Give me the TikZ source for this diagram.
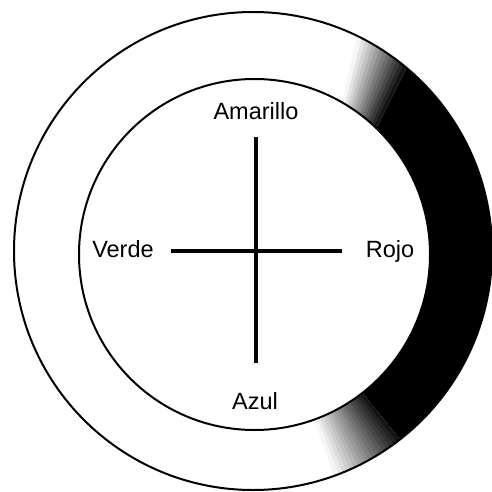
\documentclass[tikz,border=0pt]{standalone}
\usepackage{fontspec}
\setmainfont{Liberation Sans}
\usetikzlibrary{calc}
\begin{document}
\begin{tikzpicture}[x=1pt,y=1pt,
  ring/.style={line width=2pt},
  bar/.style={line width=3.2pt},
  lbl/.style={font=\fontsize{23.5}{26}\selectfont, anchor=base, inner sep=0pt}]
\useasboundingbox (0,0) rectangle (492,491);
\coordinate (O) at (253,240);
\coordinate (I) at (254.5,236.5);
% dark crescent
\fill[black] ($(O)+(-52:239)$) arc (-52:50:239) -- ($(I)+(46:175.5)$) arc (46:-52:175.5) -- cycle;
\foreach \k in {0,...,13}{
  \pgfmathsetmacro{\aa}{50+\k}
  \pgfmathsetmacro{\ab}{51.2+\k}
  \pgfmathsetmacro{\ia}{46+\k}
  \pgfmathsetmacro{\ib}{47.2+\k}
  \pgfmathsetmacro{\g}{92-6.8*\k}
  \fill[black!\g] ($(O)+(\aa:239)$) arc (\aa:\ab:239) -- ($(I)+(\ib:175.5)$) arc (\ib:\ia:175.5) -- cycle;
}
\foreach \k in {0,...,17}{
  \pgfmathsetmacro{\aa}{-52-\k}
  \pgfmathsetmacro{\ab}{-53.2-\k}
  \pgfmathsetmacro{\g}{92-5.2*\k}
  \fill[black!\g] ($(O)+(\aa:239)$) arc (\aa:\ab:239) -- ($(I)+(\ab:175.5)$) arc (\ab:\aa:175.5) -- cycle;
}
\draw[ring] (O) circle (239);
\draw[ring] (I) circle (175.5);
% labels
\node[lbl] (amarillo) at (256,372) {Amarillo};
\node[lbl] (verde) at (123,234) {Verde};
\node[lbl] (rojo) at (390,234) {Rojo};
\node[lbl] (azul) at (255,82) {Azul};
% cross
\coordinate (top) at (256,354);
\coordinate (bot) at (256,128);
\coordinate (lft) at (171,240);
\coordinate (rgt) at (342,240);
\draw[bar] (top) -- (bot);
\draw[bar] (lft) -- (rgt);
\end{tikzpicture}
\end{document}
